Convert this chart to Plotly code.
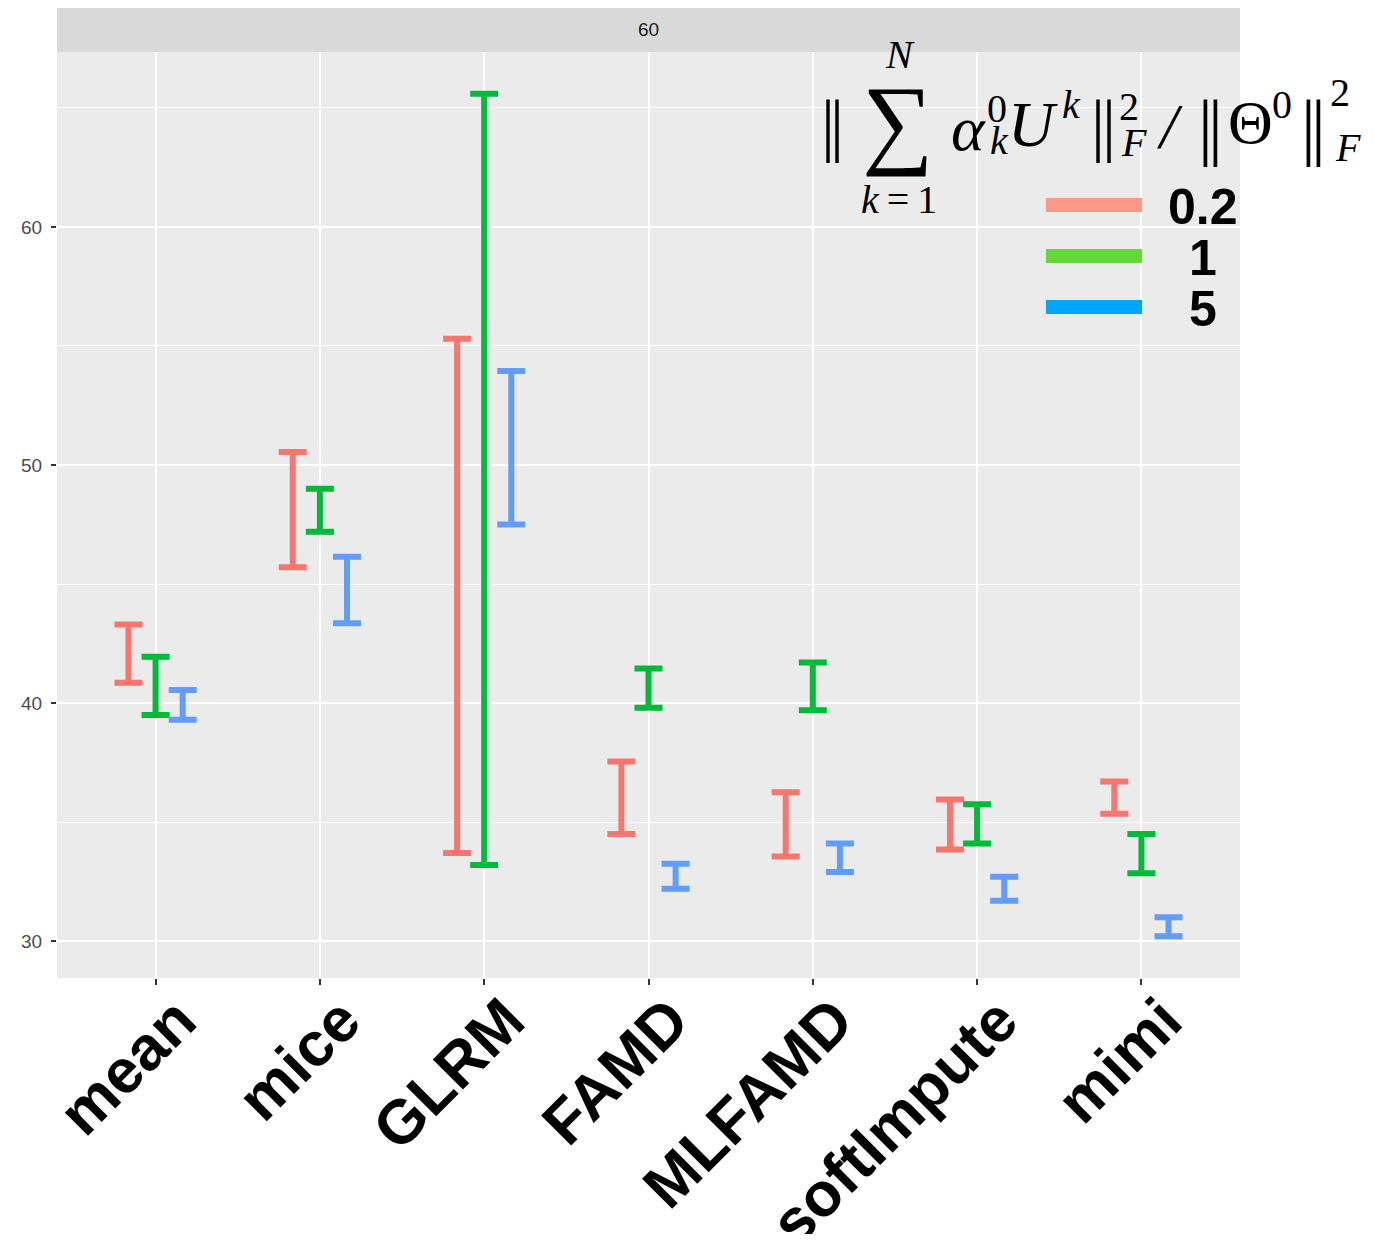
import plotly.graph_objects as go

methods = ["mean", "mice", "GLRM", "FAMD", "MLFAMD", "softImpute", "mimi"]
levels = ["0.2", "1", "5"]
bar_colors = ["#F8766D", "#00BA38", "#619CFF"]
key_colors = ["#FF968A", "#62D838", "#00A5FF"]

# lower / upper ends of the error bars per level
low_02 = [40.85, 45.7, 33.7, 34.5, 33.55, 33.85, 35.35]
high_02 = [43.3, 50.55, 55.3, 37.55, 36.25, 35.95, 36.7]
low_1 = [39.5, 47.2, 33.2, 39.8, 39.7, 34.1, 32.85]
high_1 = [41.95, 49.0, 65.6, 41.45, 41.7, 35.75, 34.5]
low_5 = [39.3, 43.35, 47.5, 32.2, 32.9, 31.7, 30.2]
high_5 = [40.55, 46.15, 53.95, 33.25, 34.1, 32.7, 31.0]

y_ticks = [30, 40, 50, 60]
facet_label = "60"

lows = [low_02, low_1, low_5]
highs = [high_02, high_1, high_5]
dodge = [-0.165, 0.0, 0.165]

fig = go.Figure()
for lv, col, lo, hi, dx in zip(levels, bar_colors, lows, highs, dodge):
    xs = [i + 1 + dx for i in range(len(methods))]
    mids = [(a + b) / 2 for a, b in zip(lo, hi)]
    fig.add_trace(go.Scatter(
        x=xs, y=mids, mode="markers", name=lv, showlegend=False,
        marker=dict(size=1, color="rgba(0,0,0,0)"),
        error_y=dict(type="data", symmetric=False,
                     array=[b - m for b, m in zip(hi, mids)],
                     arrayminus=[m - a for a, m in zip(lo, mids)],
                     color=col, thickness=6, width=14),
        hoverinfo="skip",
    ))

# page has an 8px body margin
OFF = 8
W, H = 1359, 1226
PL, PT, PR, PB = 57, 52, 1240, 978          # plot area in page pixels
L, T = PL - OFF, PT - OFF
R = OFF + W - PR
B = OFF + H - PB
pw, ph = PR - PL, PB - PT


def px(x):
    return (x - PL) / pw


def py(y):
    return (PB - y) / ph


shapes = [dict(type="rect", xref="paper", yref="paper", x0=0, x1=1,
               y0=1, y1=1 + 44 / ph, fillcolor="#D9D9D9", line=dict(width=0),
               layer="below")]
annotations = [dict(text=facet_label, xref="paper", yref="paper", x=0.5,
                    y=1 + 22 / ph, showarrow=False, yanchor="middle",
                    font=dict(size=19, color="#1A1A1A", family="Liberation Sans"))]

# legend (manual, ggplot style)
key_y = [205, 256, 307]
for lv, col, ky in zip(levels, key_colors, key_y):
    shapes.append(dict(type="line", xref="paper", yref="paper",
                       x0=px(1046), x1=px(1142), y0=py(ky), y1=py(ky),
                       line=dict(color=col, width=14), layer="above"))
    annotations.append(dict(text="<b>" + lv + "</b>", xref="paper", yref="paper",
                            x=px(1203), y=py(ky + 2), showarrow=False,
                            xanchor="center", yanchor="middle",
                            font=dict(size=50, color="black", family="Liberation Sans")))

serif = "Liberation Serif"
BAR = "|"
# legend title: || sum_{k=1}^N alpha_k^0 U^k ||_F^2 / ||Theta^0||_F^2
title_parts = [
    (BAR, 828, 124, 70), (BAR, 837, 124, 70),
    ("∑", 898, 121, 100),
    ("<i>N</i>", 900, 55, 40),
    ("<i>k</i>\u2009=\u20091", 899, 199, 40),
    ("<i>α</i>", 968, 128, 64),
    ("0", 997, 109, 40),
    ("<i>k</i>", 999, 141, 40),
    ("<i>U</i>", 1033, 124, 64),
    ("<i>k</i>", 1071, 105, 40),
    (BAR, 1098, 124, 70), (BAR, 1109, 124, 70),
    ("2", 1129, 107, 40),
    ("<i>F</i>", 1134, 142, 40),
    ("<i>/</i>", 1170, 127, 64),
    (BAR, 1205, 126, 74), (BAR, 1215, 126, 74),
    ("Θ", 1250, 122, 62),
    ("0", 1282, 104, 40),
    (BAR, 1308, 126, 74), (BAR, 1318, 126, 74),
    ("2", 1340, 93, 40),
    ("<i>F</i>", 1348, 147, 40),
]
for txt, x, y, s in title_parts:
    annotations.append(dict(text=txt, xref="paper", yref="paper", x=px(x), y=py(y),
                            showarrow=False, xanchor="center", yanchor="middle",
                            font=dict(size=s, family=serif, color="black")))

fig.update_layout(
    width=W, height=H,
    margin=dict(l=L, r=R, t=T, b=B, pad=0, autoexpand=False),
    paper_bgcolor="white", plot_bgcolor="#EBEBEB",
    showlegend=False,
    shapes=shapes, annotations=annotations,
    xaxis=dict(range=[0.4, 7.6], tickvals=list(range(1, len(methods) + 1)),
               ticktext=methods, tickangle=-45, automargin=False,
               tickfont=dict(size=62, color="black", family="Liberation Sans", weight="bold"),
               showgrid=True, gridcolor="white", gridwidth=2,
               ticks="outside", ticklen=6, tickwidth=2, tickcolor="#333333",
               zeroline=False, showline=False, fixedrange=True),
    yaxis=dict(range=[28.45, 67.35], tickvals=y_ticks, automargin=False,
               tickfont=dict(size=19, color="#4D4D4D", family="Liberation Sans"),
               showgrid=True, gridcolor="white", gridwidth=2,
               minor=dict(dtick=5, tick0=0, showgrid=True, gridcolor="white", gridwidth=1),
               ticks="outside", ticklen=5, tickwidth=2, tickcolor="#333333",
               zeroline=False, showline=False),
)
try:
    fig.update_yaxes(ticklabelstandoff=5)
except Exception:
    pass
try:
    fig.update_xaxes(ticklabelshift=22)
except Exception:
    pass
try:
    fig.update_xaxes(ticklabelstandoff=-26)
except Exception:
    pass

fig.write_html("out.html")
